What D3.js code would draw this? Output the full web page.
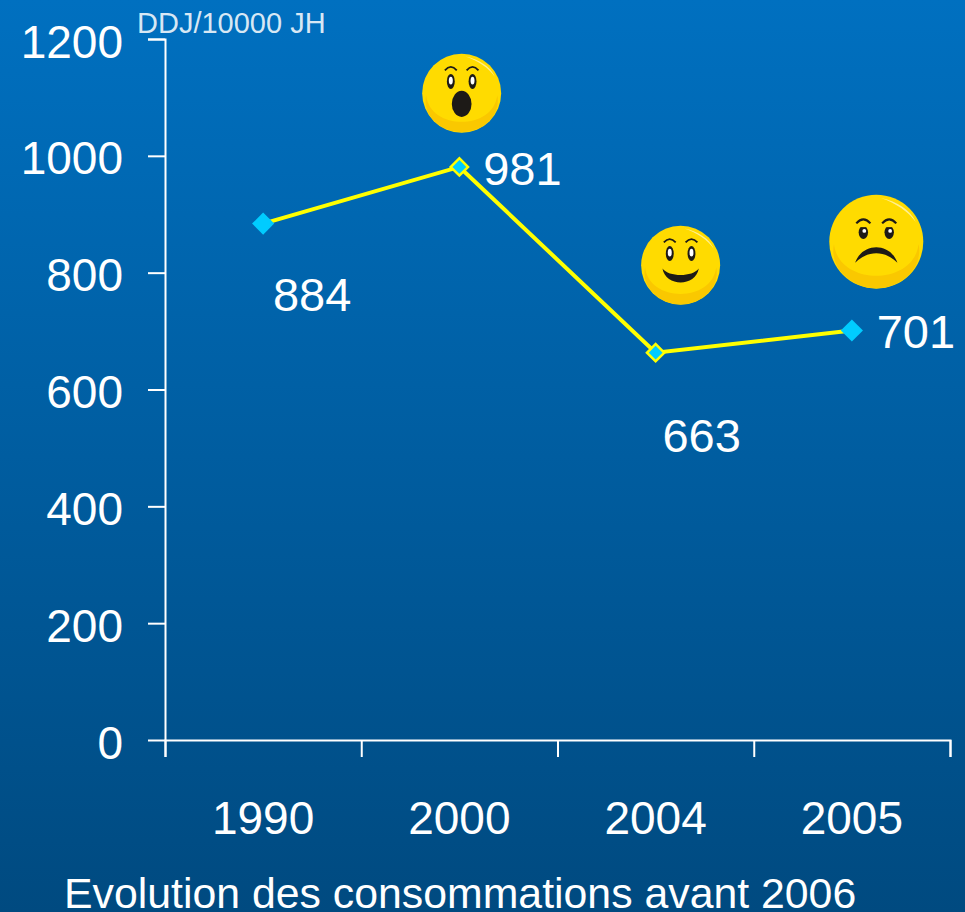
<!DOCTYPE html>
<html>
<head>
<meta charset="utf-8">
<script src="https://cdn.jsdelivr.net/npm/d3@7"></script>
<style>
  html, body { margin: 0; padding: 0; background: #004a80; }
  svg { display: block; }
  text { font-family: "Liberation Sans", Arial, sans-serif; fill: #fff; }
</style>
</head>
<body>
<div class="chart"></div>
<script>
// Data
const years = ["1990", "2000", "2004", "2005"];
const values = [884, 981, 663, 701];
const yTicks = [0, 200, 400, 600, 800, 1000, 1200];
const unitLabel = "DDJ/10000 JH";
const title = "Evolution des consommations avant 2006";

// Label placement relative to each point, and which markers get the yellow edge
const labelOffsets = [[49, 87], [63, 18], [46, 99], [64, 18]];
const outlined = [false, true, true, false];

// Smileys: mood, offset from the point, radius
const smileys = [
  { at: 1, mood: "surprised", dx: 2.3, dy: -73.7, r: 39.5 },
  { at: 2, mood: "happy", dx: 25, dy: -87.4, r: 39.5 },
  { at: 3, mood: "sad", dx: 24.4, dy: -88.8, r: 47 },
];

const width = 965;
const height = 912;
const margin = { left: 165, right: 15, top: 39, bottom: 172 };

const svg = d3
  .select(".chart")
  .append("svg")
  .attr("width", width)
  .attr("height", height);

// Background gradient
const defs = svg.append("defs");
const bg = defs
  .append("linearGradient")
  .attr("id", "bg")
  .attr("x1", 0)
  .attr("y1", 0)
  .attr("x2", 0)
  .attr("y2", 1);
bg.append("stop").attr("offset", 0).attr("stop-color", "#0070c0");
bg.append("stop").attr("offset", 1).attr("stop-color", "#004a80");
svg
  .append("rect")
  .attr("width", width)
  .attr("height", height)
  .attr("fill", "url(#bg)");

const xScale = d3
  .scaleBand()
  .domain(years)
  .range([margin.left, width - margin.right]);

// Same extent as the band scale, used for the ticks between categories
const xEdges = d3
  .scaleLinear()
  .domain([0, years.length])
  .range([margin.left, width - margin.right]);

const yScale = d3
  .scaleLinear()
  .domain([0, 1200])
  .range([height - margin.bottom, margin.top]);

const px = (i) => xScale(years[i]) + xScale.bandwidth() / 2;
const py = (i) => yScale(values[i]);

// Axes
const yAxis = svg
  .append("g")
  .attr("transform", `translate(${margin.left},0)`)
  .call(d3.axisLeft(yScale).tickValues(yTicks).tickSize(17).tickPadding(25).tickFormat(d3.format("d")));

const xTicks = svg
  .append("g")
  .attr("transform", `translate(0,${height - margin.bottom})`)
  .call(d3.axisBottom(xEdges).ticks(years.length).tickSize(17).tickFormat(""));

const xLabels = svg
  .append("g")
  .attr("transform", `translate(0,${height - margin.bottom})`)
  .call(d3.axisBottom(xScale).tickSize(0).tickPadding(61));

xLabels.select(".domain").remove();

[yAxis, xTicks].forEach((g) => {
  g.selectAll(".domain, line").attr("stroke", "#fff").attr("stroke-width", 2);
});
yAxis.select(".domain").attr("d", `M-17,${margin.top + 0.5}H0.5V${height - margin.bottom}`);
yAxis.selectAll("text").attr("dy", "18px");
[yAxis, xLabels].forEach((g) => {
  g.attr("font-family", null).attr("font-size", null);
  g.selectAll("text").style("font-size", "46px").attr("fill", "#fff");
});

// Unit label
svg
  .append("text")
  .attr("x", margin.left - 28)
  .attr("y", 33)
  .style("font-size", "29px")
  .style("fill-opacity", 0.85)
  .text(unitLabel);

// Line
const line = d3
  .line()
  .x((d, i) => px(i))
  .y((d, i) => py(i));

svg
  .append("path")
  .datum(values)
  .attr("d", line)
  .attr("fill", "none")
  .attr("stroke", "#ffff00")
  .attr("stroke-width", 4);

// Markers
svg
  .selectAll(".marker")
  .data(values)
  .enter()
  .append("path")
  .attr("class", "marker")
  .attr("d", (d, i) => d3.symbol().type(d3.symbolSquare).size(outlined[i] ? 150 : 245)())
  .attr("transform", (d, i) => `translate(${px(i)},${py(i)}) rotate(45)`)
  .attr("fill", "#00ccff")
  .attr("stroke", (d, i) => (outlined[i] ? "#ffff00" : "none"))
  .attr("stroke-width", 2.5);

// Value labels
svg
  .selectAll(".value")
  .data(values)
  .enter()
  .append("text")
  .attr("class", "value")
  .attr("x", (d, i) => px(i) + labelOffsets[i][0])
  .attr("y", (d, i) => py(i) + labelOffsets[i][1])
  .attr("text-anchor", "middle")
  .style("font-size", "47px")
  .text((d) => d);

// Smileys, all drawn on a unit circle then scaled
smileys.forEach((s, k) => {
  const g = svg
    .append("g")
    .attr("transform", `translate(${px(s.at) + s.dx},${py(s.at) + s.dy}) scale(${s.r})`);

  g.append("circle").attr("r", 1).attr("fill", "#ffdb00");

  const clipId = `face-${k}`;
  defs.append("clipPath").attr("id", clipId).append("circle").attr("r", 0.99);

  // Darker crescent at the chin
  g.append("path")
    .attr("d", "M-0.9,0.05C-0.8,0.95,0.8,0.95,0.9,0.05C1,0.5,0.6,1,0,1C-0.6,1,-1,0.5,-0.9,0.05Z")
    .attr("fill", "#fac800")
    .attr("clip-path", `url(#${clipId})`);

  // Highlight on the upper right
  g.append("path")
    .attr("d", "M0.1,-0.93C0.45,-0.85,0.72,-0.68,0.84,-0.42C0.68,-0.64,0.42,-0.82,0.1,-0.93Z")
    .attr("fill", "#ffef90");

  drawFace(g, s.mood);
});

function drawFace(g, mood) {
  const ink = "#1d1a17";
  const sad = mood === "sad";
  const eyeY = sad ? -0.2 : -0.3;
  const browEnd = sad ? -0.39 : -0.58;

  [-1, 1].forEach((side) => {
    const ex = side * 0.275;
    g.append("ellipse")
      .attr("cx", ex)
      .attr("cy", eyeY)
      .attr("rx", 0.1)
      .attr("ry", sad ? 0.14 : 0.19)
      .attr("fill", ink);
    if (sad) {
      // Flat upper lid over the eye
      g.append("rect")
        .attr("x", ex - 0.12)
        .attr("y", eyeY - 0.18)
        .attr("width", 0.24)
        .attr("height", 0.07)
        .attr("fill", "#ffdb00");
    }
    g.append("ellipse")
      .attr("cx", ex + (sad ? 0.02 : 0))
      .attr("cy", eyeY + (sad ? -0.03 : -0.02))
      .attr("rx", sad ? 0.04 : 0.05)
      .attr("ry", sad ? 0.04 : 0.1)
      .attr("fill", "#fff");
    // Brow
    g.append("path")
      .attr("d", `M${ex - 0.15},${browEnd}Q${ex},${browEnd - 0.17},${ex + 0.15},${browEnd}`)
      .attr("fill", "none")
      .attr("stroke", ink)
      .attr("stroke-width", 0.045);
  });

  if (mood === "surprised") {
    g.append("ellipse")
      .attr("cy", 0.27)
      .attr("rx", 0.25)
      .attr("ry", 0.33)
      .attr("fill", ink);
  } else if (mood === "happy") {
    g.append("path")
      .attr("d", "M-0.46,0.08C-0.3,0.3,0.3,0.3,0.46,0.08C0.38,0.55,-0.38,0.55,-0.46,0.08Z")
      .attr("fill", ink);
  } else {
    g.append("path")
      .attr("d", "M-0.45,0.45C-0.3,0.01,0.3,0.01,0.45,0.45C0.2,0.18,-0.2,0.18,-0.45,0.45Z")
      .attr("fill", ink);
  }
}

// Caption
svg
  .append("text")
  .attr("x", 64)
  .attr("y", 908)
  .style("font-size", "42.8px")
  .text(title);
</script>
</body>
</html>
